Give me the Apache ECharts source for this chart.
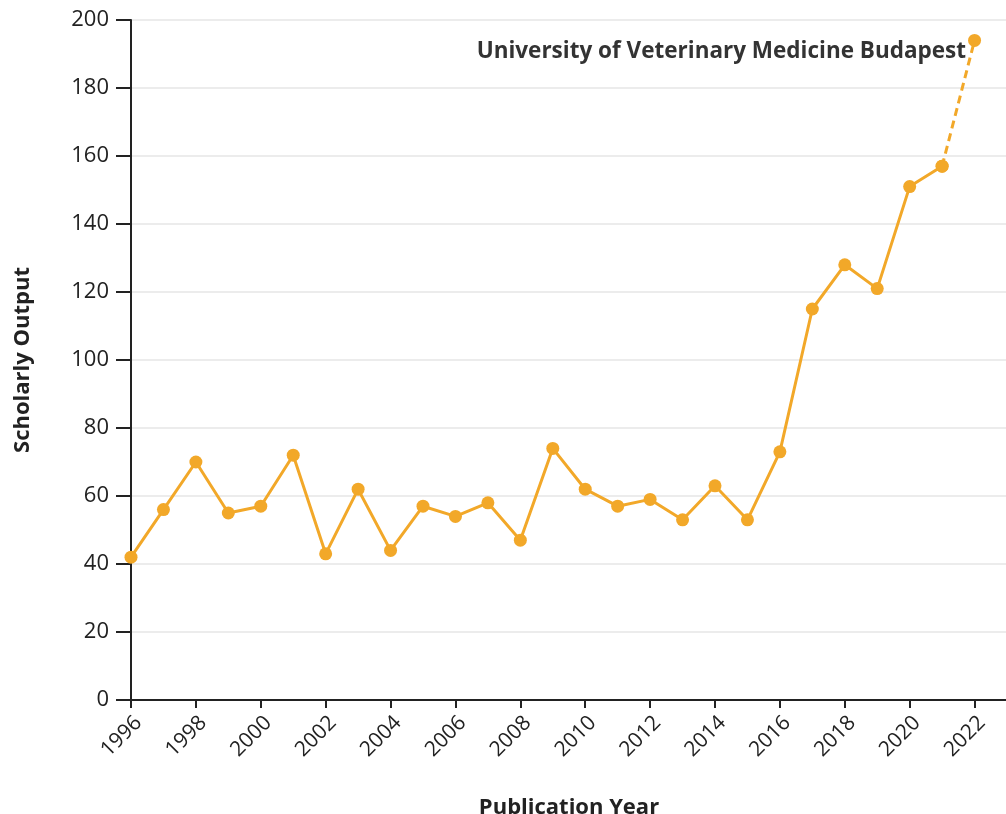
<!DOCTYPE html>
<html>
<head>
    <meta charset="UTF-8">
    <title>Scholarly Output</title>
    <script src="https://cdn.jsdelivr.net/npm/echarts@6/dist/echarts.min.js"></script>
    <style>
        html, body { margin: 0; padding: 0; background: #fff; }
    </style>
</head>
<body>
    <div id="main" style="width: 1006px;height:814px;"></div>
    <script type="text/javascript">
        // 数据
        var years = [1996, 1997, 1998, 1999, 2000, 2001, 2002, 2003, 2004, 2005, 2006, 2007, 2008,
                     2009, 2010, 2011, 2012, 2013, 2014, 2015, 2016, 2017, 2018, 2019, 2020, 2021, 2022];
        var output = [42, 56, 70, 55, 57, 72, 43, 62, 44, 57, 54, 58, 47,
                      74, 62, 57, 59, 53, 63, 53, 73, 115, 128, 121, 151, 157, 194];
        var seriesName = 'University of Veterinary Medicine Budapest';

        // 实线到2021，虚线 2021-2022
        var solidData = [];
        var dashedData = [];
        years.forEach(function (y, i) {
            if (i < years.length - 1) solidData.push([y, output[i]]);
            if (i >= years.length - 2) dashedData.push([y, output[i]]);
        });

        var myChart = echarts.init(document.getElementById('main'));
        var font = '"Open Sans", sans-serif';
        var color = '#f2a829';

        var option = {
            animation: false,
            textStyle: { fontFamily: font },
            grid: { left: 131, top: 20, width: 876, height: 680, containLabel: false, outerBoundsMode: 'none' },
            xAxis: {
                type: 'value',
                min: 1996,
                max: 2023,
                interval: 2,
                name: 'Publication Year',
                nameLocation: 'middle',
                nameGap: 97,
                nameMoveOverlap: false,
                nameTextStyle: { fontSize: 22, fontWeight: 'bold', color: '#222', fontFamily: font },
                axisLine: { lineStyle: { color: '#222', width: 2 } },
                axisTick: { length: 8, lineStyle: { color: '#222', width: 2 } },
                axisLabel: {
                    rotate: 45, fontSize: 21, color: '#222', margin: 12,
                    verticalAlign: 'top',
                    showMaxLabel: false,
                    formatter: function (v) { return v % 2 === 0 ? String(v) : ''; }
                },
                splitLine: { show: false }
            },
            yAxis: {
                type: 'value',
                min: 0,
                max: 200,
                interval: 20,
                name: 'Scholarly Output',
                nameLocation: 'middle',
                nameGap: 97,
                nameMoveOverlap: false,
                nameTextStyle: { fontSize: 22, fontWeight: 'bold', color: '#222', fontFamily: font },
                axisLine: { show: true, lineStyle: { color: '#222', width: 2 } },
                axisTick: { show: true, length: 15, lineStyle: { color: '#222', width: 2 } },
                axisLabel: { fontSize: 22, color: '#222', margin: 22 },
                splitLine: { lineStyle: { color: '#e6e6e6', width: 1.5 } }
            },
            series: [
                {
                    name: seriesName,
                    type: 'line',
                    data: solidData,
                    symbol: 'circle',
                    symbolSize: 13,
                    itemStyle: { color: color },
                    lineStyle: { color: color, width: 3 }
                },
                {
                    name: seriesName,
                    type: 'line',
                    data: dashedData,
                    symbol: 'circle',
                    symbolSize: 13,
                    itemStyle: { color: color },
                    lineStyle: { color: color, width: 3, type: [8, 5] },
                    label: {
                        show: true,
                        position: 'left',
                        offset: [3, 11],
                        formatter: function (p) {
                            return p.dataIndex === dashedData.length - 1 ? seriesName : '';
                        },
                        fontSize: 22.5,
                        fontWeight: 'bold',
                        color: '#333',
                        fontFamily: font
                    }
                }
            ]
        };

        myChart.setOption(option);
    </script>
</body>
</html>
